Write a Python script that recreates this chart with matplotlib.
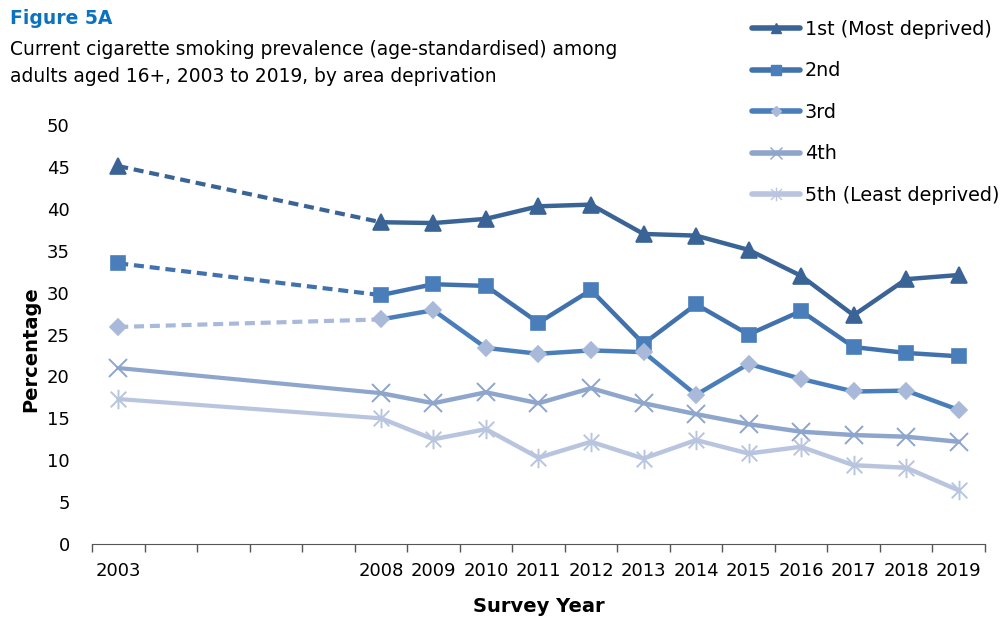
import matplotlib
matplotlib.use("Agg")
import matplotlib.pyplot as plt
from matplotlib.lines import Line2D
from matplotlib.path import Path

# Data
years = [2003, 2008, 2009, 2010, 2011, 2012, 2013, 2014, 2015, 2016, 2017, 2018, 2019]
first = [45.1, 38.4, 38.3, 38.8, 40.3, 40.5, 37.0, 36.8, 35.1, 32.0, 27.3, 31.6, 32.1]
second = [33.5, 29.7, 31.0, 30.8, 26.4, 30.3, 23.9, 28.6, 25.0, 27.8, 23.5, 22.8, 22.4]
third = [25.9, 26.8, 27.9, 23.4, 22.7, 23.1, 22.9, 17.8, 21.5, 19.7, 18.2, 18.3, 16.0]
fourth = [21.0, 18.0, 16.8, 18.1, 16.8, 18.6, 16.8, 15.5, 14.3, 13.4, 13.0, 12.8, 12.2]
fifth = [17.3, 15.0, 12.5, 13.7, 10.3, 12.2, 10.2, 12.4, 10.8, 11.6, 9.4, 9.1, 6.4]
labels = ["1st (Most deprived)", "2nd", "3rd", "4th", "5th (Least deprived)"]

# x with a vertical bar, like the Excel star marker
star = Path([(-1, -1), (1, 1), (-1, 1), (1, -1), (0, -1.25), (0, 1.25)],
            [Path.MOVETO, Path.LINETO] * 3)

series = [
    # values, line colour, marker colour, marker, size, dashed first segment
    (first, "#3b6496", "#3b6496", "^", 11, True),
    (second, "#4272ad", "#4a7ebb", "s", 10, True),
    (third, "#4a7ebb", "#a9b9d9", "D", 8, True),
    (fourth, "#8ea5cc", "#8ea5cc", "x", 13, False),
    (fifth, "#b9c5df", "#b9c5df", star, 14, False),
]

plt.rcParams["font.family"] = "DejaVu Sans"
fig = plt.figure(figsize=(10.03, 6.21), dpi=100)
ax = fig.add_axes([0.0917, 0.124, 0.8903, 0.6747])

handles = []
for (vals, lc, mc, mk, ms, dashed), lab in zip(series, labels):
    seg_col = mc if vals is third else lc
    ax.plot(years[:2], vals[:2], color=seg_col, lw=3, ls=(0, (2.4, 1.4)) if dashed else "-",
            solid_capstyle="round", zorder=2)
    ax.plot(years[1:], vals[1:], color=lc, lw=3.2, solid_joinstyle="round", zorder=2)
    ax.plot(years, vals, ls="none", marker=mk, ms=ms, color=mc, mec=mc,
            mew=1.4 if mk in ("x",) or mk is star else 1.2, zorder=3)
    handles.append(Line2D([0], [0], color=lc, lw=4, marker=mk, ms=ms * 0.7,
                          mfc=mc, mec=mc, solid_capstyle="round"))

ax.set_xlim(2002.5, 2019.5)
ax.set_ylim(0, 50)
ax.set_yticks(range(0, 51, 5))
ax.set_xticks([2003] + list(range(2008, 2020)))
ax.set_xticks([y + 0.5 for y in range(2002, 2020)], minor=True)
ax.tick_params(axis="y", length=0, labelsize=13, pad=16)
ax.tick_params(axis="x", which="major", length=0, labelsize=13, pad=13)
ax.tick_params(axis="x", which="minor", length=6, width=1, color="#555555")
for s in ["top", "right", "left"]:
    ax.spines[s].set_visible(False)
ax.spines["bottom"].set_color("#555555")

ax.set_ylabel("Percentage", fontsize=14, fontweight="bold")
ax.yaxis.set_label_coords(-0.058, 0.465)
ax.set_xlabel("Survey Year", fontsize=14, fontweight="bold", labelpad=12)

fig.text(0.01, 0.971, "Figure 5A", fontsize=13.5, fontweight="bold", color="#0b72c0", va="center")
fig.text(0.01, 0.9195, "Current cigarette smoking prevalence (age-standardised) among",
         fontsize=13.4, va="center")
fig.text(0.01, 0.8776, "adults aged 16+, 2003 to 2019, by area deprivation",
         fontsize=13.4, va="center")

fig.legend(handles, labels, loc="upper right", bbox_to_anchor=(1.002, 0.977), frameon=False,
           fontsize=13.8, handlelength=2.5, handletextpad=0.25, labelspacing=1.17,
           borderpad=0.2, borderaxespad=0.1)

fig.savefig("out.png", dpi=100)
